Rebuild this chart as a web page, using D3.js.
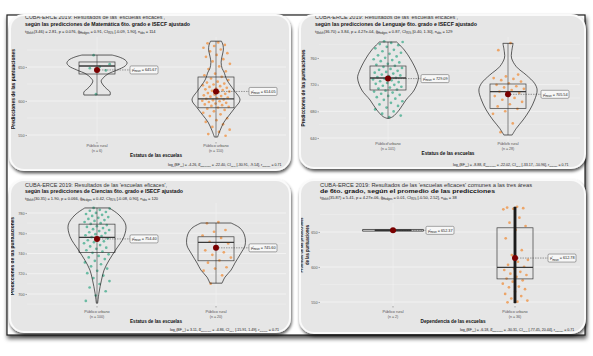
<!DOCTYPE html>
<html><head><meta charset="utf-8">
<script src="https://cdn.jsdelivr.net/npm/d3@7"></script>
<style>html,body{margin:0;padding:0;background:#fff}svg{display:block;font-family:"Liberation Sans",Arial,sans-serif}</style>
</head><body><svg id="c" width="593" height="356"></svg>
<script>
// ---------------- DATA ----------------
// Panel 1: Matemática
const mathCategories = ["Público rural", "Público urbano"];
const mathN = [6, 110];
const mathTicks = [550, 600, 650];
const mathRuralScores = [667.4, 654.1, 650.2, 648.3, 645.0, 610.0];
const mathUrbanScores = [686.2, 684.8, 682.5, 680.9, 678.3, 675.7, 673.1, 670.4, 667.8, 664.9, 661.5, 658.2, 654.6, 650.8, 646.9, 643.7, 640.2, 637.8, 635.5, 633.1, 630.9, 628.4, 627.1, 625.6, 624.3, 623.0, 621.8, 620.7, 619.4, 618.3, 617.2, 616.1, 615.0, 613.8, 612.9, 611.7, 610.6, 609.5, 608.4, 607.2, 606.3, 605.1, 604.2, 603.0, 602.1, 601.2, 600.4, 599.6, 598.5, 597.3, 596.2, 595.0, 593.8, 592.7, 591.5, 590.3, 588.6, 586.9, 584.8, 582.7, 580.4, 577.9, 574.6, 571.8, 569.2, 565.7, 561.9, 557.8, 554.6, 551.3, 548.9];
const mathRuralViolinValues = [667.6, 664.7, 660.3, 655.9, 651.5, 645.6, 639.7, 633.8, 629.4, 623.5, 617.6, 613.2, 608.8];
const mathRuralViolinDensity = [0.47, 0.69, 0.88, 0.94, 0.88, 0.63, 0.34, 0.19, 0.13, 0.19, 0.31, 0.41, 0.41];
const mathUrbanViolinValues = [688, 682, 675, 666, 657, 648, 642.6, 631, 616, 601.5, 590, 579, 569, 557, 547];
const mathUrbanViolinDensity = [0.17, 0.22, 0.23, 0.19, 0.16, 0.19, 0.25, 0.34, 0.56, 0.75, 0.59, 0.41, 0.25, 0.13, 0.05];
const mathBoxStats = [[608.8, 639.7, 651.5, 657.4, 667.6], [547, 590, 603, 635.3, 688]];
const mathMeans = [645.67, 614.05];
const mathStats = ["3.46", "2.81", "0.076", "0.91", "-0.09", "1.90", "114"];
const mathCaption = ["-4.26", "-22.40", "-30.91", "-9.14", "0.71"];

// Panel 2: Lenguaje
const langCategories = ["Público urbano", "Público rural"];
const langN = [101, 28];
const langTicks = [640, 680, 720, 760];
const langUrbanScores = [785.1, 784.0, 782.6, 780.9, 779.2, 776.8, 774.5, 772.3, 770.1, 767.9, 766.2, 764.0, 762.4, 760.3, 758.1, 756.9, 755.2, 753.4, 751.3, 749.8, 748.2, 746.7, 745.1, 743.6, 742.2, 740.8, 739.1, 738.0, 736.6, 735.2, 733.9, 732.7, 731.3, 730.2, 728.9, 727.8, 726.5, 725.1, 723.9, 722.6, 721.2, 719.8, 718.4, 716.9, 715.6, 714.1, 712.6, 711.0, 709.7, 708.1, 706.4, 704.8, 703.1, 701.2, 699.0, 697.3, 695.1, 692.8, 690.4, 688.1, 685.6, 682.9, 679.8, 676.5, 673.6, 671.2];
const langRuralScores = [782.3, 771.8, 735.2, 732.4, 729.9, 728.6, 726.8, 724.7, 722.1, 719.8, 717.6, 715.9, 713.8, 711.9, 709.6, 707.7, 705.3, 702.9, 700.1, 697.4, 694.2, 690.6, 687.3, 683.8, 680.1, 676.2, 661.9, 648.7];
const langUrbanViolinValues = [784, 772, 757, 739.5, 730, 712, 697, 682, 672, 669.5];
const langUrbanViolinDensity = [0.27, 0.51, 0.72, 0.9, 0.95, 0.82, 0.56, 0.35, 0.15, 0.03];
const langRuralViolinValues = [782, 767.5, 760, 747, 734.5, 722, 712, 697, 682, 667, 654.5, 644.5];
const langRuralViolinDensity = [0.16, 0.11, 0.11, 0.26, 0.57, 0.83, 0.91, 0.83, 0.68, 0.47, 0.26, 0.13];
const langBoxStats = [[669.5, 712, 730, 748, 784], [644.5, 684.5, 709.5, 721, 782]];
const langMeans = [729.09, 705.54];
const langStats = ["36.70", "3.84", "4.27e-04", "0.87", "0.40", "1.30", "129"];
const langCaption = ["-8.88", "-22.02", "-33.17", "-10.96", "0.71"];

// Panel 3: Ciencias
const sciCategories = ["Público urbano", "Público rural"];
const sciN = [100, 20];
const sciTicks = [700, 720, 740, 760, 780];
const sciUrbanScores = [785.0, 784.4, 783.1, 782.2, 781.0, 780.1, 779.0, 778.2, 777.1, 776.0, 775.2, 774.1, 773.0, 772.2, 771.1, 770.0, 769.2, 768.1, 767.0, 766.2, 765.1, 764.0, 763.2, 762.1, 761.0, 760.2, 759.1, 758.0, 757.2, 756.1, 755.0, 754.2, 753.1, 752.0, 751.2, 750.1, 748.3, 747.0, 745.8, 744.6, 743.2, 741.9, 740.7, 739.2, 737.6, 736.1, 734.5, 732.8, 731.2, 729.4, 727.3, 725.1, 722.9, 720.6, 718.2, 715.7, 712.8, 709.9, 706.4, 702.7, 698.5, 693.2];
const sciRuralScores = [771.0, 769.8, 763.2, 761.5, 757.8, 755.4, 751.6, 749.9, 746.3, 743.1, 741.2, 738.7, 736.0, 733.2, 730.9, 726.4, 725.1, 723.0, 718.4, 710.2];
const sciUrbanViolinValues = [785, 778, 768.1, 756.5, 743.4, 733.5, 723.6, 713.7, 700.8, 690.9];
const sciUrbanViolinDensity = [0.38, 0.69, 0.9, 0.84, 0.58, 0.38, 0.22, 0.14, 0.06, 0.02];
const sciRuralViolinValues = [770.1, 765.1, 758.2, 748.3, 740.4, 730.5, 723.6, 716.6, 710.7];
const sciRuralViolinDensity = [0.47, 0.75, 0.89, 0.91, 0.78, 0.59, 0.47, 0.28, 0.19];
const sciBoxStats = [[690.9, 741, 756, 769, 785], [710.7, 732.8, 751, 756.5, 770.1]];
const sciMeans = [754.40, 745.60];
const sciStats = ["30.35", "1.90", "0.066", "0.42", "-0.08", "0.90", "120"];
const sciCaption = ["3.11", "-4.86", "-15.91", "1.49", "0.71"];

// Panel 4: promedio de las tres áreas
const avgCategories = ["Público rural", "Público urbano"];
const avgN = [2, 36];
const avgTicks = [550, 600, 650];
const avgRuralScores = [652.9, 651.8];
const avgUrbanScores = [686.0, 684.9, 684.1, 683.2, 682.4, 670.4, 663.3, 658.6, 653.0, 641.0, 624.0, 617.0, 610.2, 607.5, 603.1, 600.2, 597.8, 595.7, 593.1, 590.4, 588.6, 586.0, 583.4, 581.0, 579.0, 576.2, 572.0, 571.0, 568.3, 564.7, 561.5, 558.4, 555.0, 552.1, 550.4, 549.6];
const avgRuralViolinValues = [653.6, 651.2];
const avgRuralViolinDensity = [0.95, 0.95];
const avgUrbanViolinValues = [685.7, 548.6];
const avgUrbanViolinDensity = [0.035, 0.035];
const avgBoxStats = [[651.6, 651.9, 652.37, 652.8, 653.1], [548.6, 583, 599.5, 656, 685.7]];
const avgMeans = [652.37, 612.78];
const avgStats = ["35.87", "5.41", "4.27e-06", "0.01", "-0.50", "2.52", "38"];
const avgCaption = ["-6.18", "-30.31", "-77.45", "20.44", "0.71"];

const groupColors = ["#1b9e77", "#f07d1a"];

// ---------------- DRAWING ----------------
const svg = d3.select("#c");
const defs = svg.append("defs");
const f1 = defs.append("filter").attr("id", "cs").attr("x", "-10%").attr("y", "-10%").attr("width", "125%").attr("height", "130%");
f1.append("feDropShadow").attr("dx", 0.8).attr("dy", 2.4).attr("stdDeviation", 1.7).attr("flood-color", "#000").attr("flood-opacity", 0.65);
const f2 = defs.append("filter").attr("id", "fs").attr("x", "-5%").attr("y", "-5%").attr("width", "110%").attr("height", "115%");
f2.append("feDropShadow").attr("dx", 1).attr("dy", 3).attr("stdDeviation", 2).attr("flood-color", "#000").attr("flood-opacity", 0.7);

svg.append("rect").attr("width", 593).attr("height", 356).attr("fill", "#fff");
svg.append("rect").attr("x", 7).attr("y", 15).attr("width", 578).attr("height", 320)
  .attr("fill", "#fff").attr("stroke", "#222").attr("stroke-width", 1.2).attr("filter", "url(#fs)");

function rich(textSel, parts, fs) {
  let cur = 0;
  parts.forEach(([t, k]) => {
    let target = 0, size = fs;
    if (k === "sub") { target = fs * 0.28; size = fs * 0.68; }
    else if (k === "sup") { target = -fs * 0.38; size = fs * 0.68; }
    textSel.append("tspan").attr("dy", (target - cur).toFixed(2)).attr("font-size", size).text(t);
    cur = target;
  });
}
function statsParts(s) {
  return [["t", "n"], ["Welch", "sub"], ["(" + s[0] + ") = " + s[1] + ", ", "n"], ["p", "n"], [" = " + s[2] + ", ", "n"],
    ["ĝ", "n"], ["Hedges", "sub"], [" = " + s[3] + ", CI", "n"], ["95%", "sub"], [" [" + s[4] + ", " + s[5] + "], n", "n"], ["obs", "sub"], [" = " + s[6], "n"]];
}
function captionParts(c) {
  return [["log", "n"], ["e", "sub"], ["(BF", "n"], ["01", "sub"], [") = " + c[0] + ", δ̂", "n"], ["difference", "sub"], [" = " + c[1] + ", CI", "n"], ["95%", "sub"],
    [" [" + c[2] + ", " + c[3] + "], r", "n"], ["Cauchy", "sub"], [" = " + c[4], "n"]];
}

function drawPanel(p, id) {
  const g = svg.append("g");
  g.append("rect").attr("x", p.card[0]).attr("y", p.card[1]).attr("width", p.card[2]).attr("height", p.card[3])
    .attr("rx", 14).attr("fill", "#e6e6e6").attr("stroke", "#fafafa").attr("stroke-width", 2).attr("filter", "url(#cs)");
  defs.append("clipPath").attr("id", "clip" + id).append("rect")
    .attr("x", p.card[0] + 1).attr("y", p.card[1] + 1).attr("width", p.card[2] - 2).attr("height", p.card[3] - 1).attr("rx", 13);
  const inner = g.append("g").attr("clip-path", "url(#clip" + id + ")");

  const y = d3.scaleLinear().domain([p.ticks[0], p.ticks[p.ticks.length - 1]]).range(p.tickPx);
  const x = d3.scalePoint().domain(p.cats).range(p.catX);
  const wScale = d3.scaleLinear().domain([0, 1]).range([0, 32]);
  const boxHalf = 18;

  // grid
  const step = p.ticks[1] - p.ticks[0];
  const minor = [p.ticks[0] - step / 2].concat(p.ticks.map(t => t + step / 2));
  const inPlot = v => y(v) >= p.plotY[0] && y(v) <= p.plotY[1];
  inner.selectAll(".gmin").data(minor.filter(inPlot)).join("line")
    .attr("x1", p.plotX[0]).attr("x2", p.plotX[1]).attr("y1", d => y(d)).attr("y2", d => y(d))
    .attr("stroke", "#f3f3f3").attr("stroke-width", 0.4);
  inner.selectAll(".gmaj").data(p.ticks).join("line")
    .attr("x1", p.plotX[0]).attr("x2", p.plotX[1]).attr("y1", d => y(d)).attr("y2", d => y(d))
    .attr("stroke", "#f6f6f6").attr("stroke-width", 0.7);
  inner.selectAll(".gv").data(p.cats).join("line")
    .attr("x1", d => x(d)).attr("x2", d => x(d)).attr("y1", p.plotY[0]).attr("y2", p.plotY[1])
    .attr("stroke", "#f3f3f3").attr("stroke-width", 0.6);

  // y axis
  const ya = inner.append("g").attr("transform", `translate(${p.plotX[0]},0)`)
    .call(d3.axisLeft(y).tickValues(p.ticks).tickSize(1.5).tickPadding(1));
  ya.select(".domain").remove();
  ya.selectAll("line").attr("stroke", "#444").attr("stroke-width", 0.4);
  ya.selectAll("text").attr("font-size", 3.8).attr("fill", "#555").attr("font-family", "Liberation Sans, Arial");
  // x axis ticks + labels
  p.cats.forEach((c, i) => {
    inner.append("line").attr("x1", x(c)).attr("x2", x(c)).attr("y1", p.plotY[1]).attr("y2", p.plotY[1] + 1.5)
      .attr("stroke", "#444").attr("stroke-width", 0.4);
    inner.append("text").attr("x", x(c)).attr("y", p.xLabY[0]).attr("text-anchor", "middle")
      .attr("font-size", 3.8).attr("fill", "#555").text(c);
    inner.append("text").attr("x", x(c)).attr("y", p.xLabY[1]).attr("text-anchor", "middle")
      .attr("font-size", 3.6).attr("fill", "#555").text("(n = " + p.ns[i] + ")");
  });

  // points
  p.scores.forEach((arr, gi) => {
    inner.append("g").selectAll("circle").data(arr).join("circle")
      .attr("cx", (d, i) => x(p.cats[gi]) + ((((i * 0.6180339887 + 0.37 + gi * 0.21) % 1) * 2 - 1) * p.jitter[gi]))
      .attr("cy", d => y(d)).attr("r", 1.35)
      .attr("fill", groupColors[gi]).attr("fill-opacity", 0.62);
  });

  // boxes
  p.boxes.forEach((b, gi) => {
    const cx = x(p.cats[gi]);
    const bg = inner.append("g").attr("stroke", "#3a3a3a").attr("fill", "none");
    bg.append("line").attr("x1", cx).attr("x2", cx).attr("y1", y(b[4])).attr("y2", y(b[0])).attr("stroke-width", 0.6);
    bg.append("rect").attr("x", cx - boxHalf).attr("y", y(b[3])).attr("width", boxHalf * 2).attr("height", y(b[1]) - y(b[3])).attr("stroke-width", 0.7);
    bg.append("line").attr("x1", cx - boxHalf).attr("x2", cx + boxHalf).attr("y1", y(b[2])).attr("y2", y(b[2])).attr("stroke-width", 1.3);
  });

  // violins
  p.violins.forEach((v, gi) => {
    const cx = x(p.cats[gi]);
    const pts = v.values.map((val, i) => [val, v.density[i]]);
    const area = d3.area().y(d => y(d[0])).x0(d => cx - wScale(d[1])).x1(d => cx + wScale(d[1])).curve(d3.curveCatmullRom);
    const thin = d3.max(v.density) < 0.1;
    inner.append("path").attr("d", area(pts)).attr("fill", thin ? "#1a1a1a" : "none").attr("stroke", "#1f1f1f")
      .attr("stroke-width", thin ? 0.6 : 0.7);
  });

  // means
  p.means.forEach((m, gi) => {
    const cx = x(p.cats[gi]), cy = y(m);
    const lx = cx + 33;
    inner.append("line").attr("x1", cx).attr("x2", lx).attr("y1", cy).attr("y2", cy)
      .attr("stroke", "#444").attr("stroke-width", 0.5).attr("stroke-dasharray", "1.5,1");
    inner.append("circle").attr("cx", cx).attr("cy", cy).attr("r", 3).attr("fill", "#7a0000");
    inner.append("rect").attr("x", lx).attr("y", cy - 4).attr("width", 28).attr("height", 8).attr("rx", 1.2)
      .attr("fill", "#f7f7f7").attr("stroke", "#555").attr("stroke-width", 0.5);
    const t = inner.append("text").attr("x", lx + 2).attr("y", cy + 1.4).attr("font-size", 3.8).attr("fill", "#222");
    rich(t, [["μ̂", "n"], ["mean", "sub"], [" = " + m.toFixed(2), "n"]], 3.8);
  });

  // titles
  p.title.forEach((tl, i) => {
    inner.append("text").attr("x", p.titleX).attr("y", p.titleY[i]).attr("font-size", tl.size)
      .attr("font-weight", tl.bold ? "bold" : "normal").attr("fill", tl.bold ? "#111" : "#333")
      .attr("textLength", tl.w).attr("lengthAdjust", "spacingAndGlyphs").text(tl.text);
  });
  const st = inner.append("text").attr("x", p.titleX).attr("y", p.titleY[2]).attr("font-size", 4).attr("fill", "#222");
  rich(st, statsParts(p.stats), 4);

  // axis titles
  p.yTitle.forEach((yt, i) => {
    inner.append("text").attr("transform", `translate(${p.yTitleX[i]},${p.yTitleCY}) rotate(-90)`)
      .attr("text-anchor", "middle").attr("font-size", 4.8).attr("font-weight", "bold").attr("fill", "#111")
      .attr("textLength", yt.w).attr("lengthAdjust", "spacingAndGlyphs").text(yt.text);
  });
  inner.append("text").attr("x", p.xTitleX).attr("y", p.xTitleY).attr("text-anchor", "middle")
    .attr("font-size", 4.8).attr("font-weight", "bold").attr("fill", "#111")
    .attr("textLength", p.xTitleW).attr("lengthAdjust", "spacingAndGlyphs").text(p.xTitle);

  // caption
  const cp = inner.append("text").attr("x", p.capX).attr("y", p.capY).attr("font-size", 3.6).attr("fill", "#222");
  rich(cp, captionParts(p.caption), 3.6);
}

const tl1 = "CUBA-ERCE 2019: Resultados de las 'escuelas eficaces',";
const panels = [
  {
    card: [10, 15, 280, 155], plotX: [27, 286], plotY: [37, 142], tickPx: [135, 67], catX: [97, 216],
    cats: mathCategories, ns: mathN, ticks: mathTicks, scores: [mathRuralScores, mathUrbanScores], jitter: [13, 14],
    violins: [{ values: mathRuralViolinValues, density: mathRuralViolinDensity }, { values: mathUrbanViolinValues, density: mathUrbanViolinDensity }],
    boxes: mathBoxStats, means: mathMeans, stats: mathStats, caption: mathCaption,
    title: [{ text: tl1, w: 140, size: 5 }, { text: "según las predicciones de Matemática 6to. grado e ISECF ajustado", w: 165, size: 5, bold: true }],
    titleX: 25, titleY: [19, 25.8, 33], yTitle: [{ text: "Predicciones de las puntuaciones", w: 80 }], yTitleX: [15], yTitleCY: 89,
    xTitle: "Estatus de las escuelas", xTitleX: 156, xTitleY: 157, xTitleW: 52, xLabY: [147, 151.5], capX: 168, capY: 166
  },
  {
    card: [300, 15, 285, 153], plotX: [319, 580], plotY: [37, 142], tickPx: [138, 58], catX: [388, 508],
    cats: langCategories, ns: langN, ticks: langTicks, scores: [langUrbanScores, langRuralScores], jitter: [15, 16],
    violins: [{ values: langUrbanViolinValues, density: langUrbanViolinDensity }, { values: langRuralViolinValues, density: langRuralViolinDensity }],
    boxes: langBoxStats, means: langMeans, stats: langStats, caption: langCaption,
    title: [{ text: tl1, w: 143, size: 5 }, { text: "según las predicciones de Lenguaje 6to. grado e ISECF ajustado", w: 162, size: 5, bold: true }],
    titleX: 315, titleY: [18.5, 25.8, 33], yTitle: [{ text: "Predicciones de las puntuaciones", w: 77 }], yTitleX: [305], yTitleCY: 88,
    xTitle: "Estatus de las escuelas", xTitleX: 448, xTitleY: 154.5, xTitleW: 53, xLabY: [145, 149.5], capX: 453, capY: 165.5
  },
  {
    card: [10, 180, 280, 152], plotX: [27, 286], plotY: [203, 306], tickPx: [294, 213], catX: [97, 216],
    cats: sciCategories, ns: sciN, ticks: sciTicks, scores: [sciUrbanScores, sciRuralScores], jitter: [13, 15],
    violins: [{ values: sciUrbanViolinValues, density: sciUrbanViolinDensity }, { values: sciRuralViolinValues, density: sciRuralViolinDensity }],
    boxes: sciBoxStats, means: sciMeans, stats: sciStats, caption: sciCaption,
    title: [{ text: tl1, w: 142, size: 5 }, { text: "según las predicciones de Ciencias 6to. grado e ISECF ajustado", w: 158, size: 5, bold: true }],
    titleX: 25, titleY: [186.7, 192.5, 199.8], yTitle: [{ text: "Predicciones de las puntuaciones", w: 78 }], yTitleX: [14], yTitleCY: 256,
    xTitle: "Estatus de las escuelas", xTitleX: 156, xTitleY: 322.5, xTitleW: 52, xLabY: [313, 317.5], capX: 170, capY: 331
  },
  {
    card: [300, 180, 285, 153], plotX: [320, 580], plotY: [203, 306], tickPx: [302, 232], catX: [393, 515],
    cats: avgCategories, ns: avgN, ticks: avgTicks, scores: [avgRuralScores, avgUrbanScores], jitter: [2, 13],
    violins: [{ values: avgRuralViolinValues, density: avgRuralViolinDensity }, { values: avgUrbanViolinValues, density: avgUrbanViolinDensity }],
    boxes: avgBoxStats, means: avgMeans, stats: avgStats, caption: avgCaption,
    title: [{ text: "CUBA-ERCE 2019: Resultados de las 'escuelas eficaces' comunes a las tres áreas", w: 212, size: 5.3 },
            { text: "de 6to. grado, según el promedio de las predicciones", w: 175, size: 5.6, bold: true }],
    titleX: 320, titleY: [187, 192.8, 199], yTitle: [{ text: "Promedio de las predicciones", w: 55 }, { text: "de las puntuaciones", w: 40 }],
    yTitleX: [303, 308.5], yTitleCY: 245,
    xTitle: "Dependencia de las escuelas", xTitleX: 453, xTitleY: 322.5, xTitleW: 65, xLabY: [313, 317.5], capX: 460, capY: 331
  }
];
panels.forEach((p, i) => drawPanel(p, i));
</script></body></html>
